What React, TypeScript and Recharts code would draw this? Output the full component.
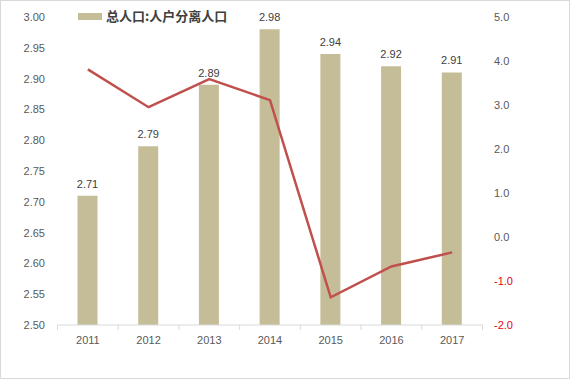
import React from 'react';
import { ComposedChart, Bar, Line, XAxis, YAxis, LabelList } from 'recharts';

const years = ['2011', '2012', '2013', '2014', '2015', '2016', '2017'];
const totalSeparated = [2.71, 2.79, 2.89, 2.98, 2.94, 2.92, 2.91];
const growthRate = [3.81, 2.95, 3.59, 3.11, -1.37, -0.67, -0.35];
const leftTicks = [2.5, 2.55, 2.6, 2.65, 2.7, 2.75, 2.8, 2.85, 2.9, 2.95, 3.0];
const rightTicks = [-2, -1, 0, 1, 2, 3, 4, 5];
const legendName = '总人口:人户分离人口';

const data = years.map((y, i) => ({ year: y, total: totalSeparated[i], growth: growthRate[i] }));

const FONT = '"Liberation Sans", Arial, sans-serif';
const TEXT = '#595959';
const BAR_COLOR = '#C4BD97';
const BAND = 425 / 7;

const XTick = (props: any) => {
  const { x, y, payload, index } = props;
  return (
    <g>
      <line x1={x - BAND / 2} x2={x - BAND / 2} y1={y} y2={y + 5} stroke="#D9D9D9" strokeWidth={1} />
      {index === years.length - 1 && (
        <line x1={x + BAND / 2} x2={x + BAND / 2} y1={y} y2={y + 5} stroke="#D9D9D9" strokeWidth={1} />
      )}
      <text x={x} y={y + 15} textAnchor="middle" dominantBaseline="central" fill={TEXT} fontSize={11} fontFamily={FONT}>
        {payload.value}
      </text>
    </g>
  );
};

const LeftTick = (props: any) => {
  const { x, y, payload } = props;
  return (
    <text x={x} y={y} textAnchor="end" dominantBaseline="central" fill={TEXT} fontSize={11} fontFamily={FONT}>
      {Number(payload.value).toFixed(2)}
    </text>
  );
};

const RightTick = (props: any) => {
  const { x, y, payload } = props;
  const v = Number(payload.value);
  return (
    <text x={x} y={y} textAnchor="start" dominantBaseline="central" fill={v < 0 ? '#E60012' : TEXT} fontSize={11} fontFamily={FONT}>
      {v.toFixed(1)}
    </text>
  );
};

export default function App() {
  return (
    <div style={{ position: 'absolute', left: 0, top: 0, width: 570, height: 379, background: '#fff' }}>
      <ComposedChart width={570} height={379} data={data} margin={{ top: 17, right: 0, bottom: 24, left: 0 }}>
        <XAxis
          dataKey="year"
          height={30}
          tickSize={0}
          tickMargin={0}
          tickLine={false}
          axisLine={{ stroke: '#D9D9D9' }}
          tick={<XTick />}
          interval={0}
        />
        <YAxis
          yAxisId="left"
          orientation="left"
          width={57.5}
          domain={[2.5, 3.0]}
          ticks={leftTicks}
          tickSize={0}
          tickMargin={12.5}
          axisLine={false}
          tickLine={false}
          tick={<LeftTick />}
          interval={0}
        />
        <YAxis
          yAxisId="right"
          orientation="right"
          width={87.5}
          domain={[-2, 5]}
          ticks={rightTicks}
          tickSize={0}
          tickMargin={11.5}
          axisLine={false}
          tickLine={false}
          tick={<RightTick />}
          interval={0}
        />
        <Bar yAxisId="left" dataKey="total" name={legendName} fill={BAR_COLOR} barSize={20} isAnimationActive={false}>
          <LabelList
            dataKey="total"
            position="top"
            offset={8}
            formatter={(v: any) => Number(v).toFixed(2)}
            fill="#404040"
            fontSize={11}
            fontFamily={FONT}
          />
        </Bar>
        <Line
          yAxisId="right"
          dataKey="growth"
          name="增速"
          stroke="#C0504D"
          strokeWidth={2.5}
          dot={false}
          activeDot={false}
          isAnimationActive={false}
        />
      </ComposedChart>
      <div style={{ position: 'absolute', left: 78, top: 9, display: 'flex', alignItems: 'center' }}>
        <div style={{ width: 24, height: 7, background: BAR_COLOR, marginRight: 4 }} />
        <span style={{ fontFamily: '"Noto Sans CJK SC", sans-serif', fontSize: 13, fontWeight: 700, color: '#404040', lineHeight: '14px' }}>
          {legendName}
        </span>
      </div>
      <div style={{ position: 'absolute', left: 0, top: 0, width: 570, height: 379, boxSizing: 'border-box', border: '1px solid #D9D9D9', pointerEvents: 'none' }} />
    </div>
  );
}
